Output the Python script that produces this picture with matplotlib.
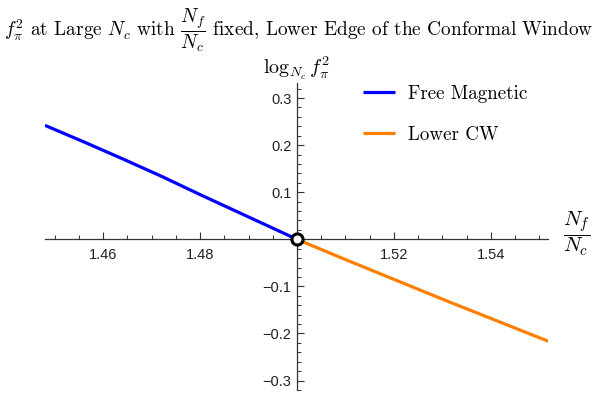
import numpy as np
import matplotlib.pyplot as plt
from matplotlib.ticker import MultipleLocator, FixedLocator, FixedFormatter

plt.rcParams['mathtext.fontset'] = 'cm'

# data
x_free = [1.448, 1.456, 1.464, 1.472, 1.480, 1.488, 1.496, 1.500]
y_free = [0.242, 0.207, 0.171, 0.134, 0.095, 0.057, 0.019, 0.0]
x_cw = [1.500, 1.510, 1.520, 1.530, 1.540, 1.552]
y_cw = [0.0, -0.043, -0.085, -0.127, -0.168, -0.217]

xticks = [1.46, 1.48, 1.52, 1.54]
xlabels = ['1.46', '1.48', '1.52', '1.54']
yticks = [-0.3, -0.2, -0.1, 0.1, 0.2, 0.3]
ylabels = ['\u22120.3', '\u22120.2', '\u22120.1', '0.1', '0.2', '0.3']

fig = plt.figure(figsize=(5.98, 3.98), dpi=100)
W, H = 598, 398
ax = fig.add_axes([45 / W, 1 - 390 / H, (548 - 45) / W, (390 - 83) / H])
ax.set_xlim(1.448, 1.5518)
ax.set_ylim(-0.32, 0.332)

ax.plot(x_free, y_free, color='#0000ff', lw=2.3, label='Free Magnetic', solid_capstyle='butt')
ax.plot(x_cw, y_cw, color='#ff8000', lw=2.3, label='Lower CW', solid_capstyle='butt')
ax.plot([1.5], [0.0], marker='o', ms=8, mfc='white', mec='black', mew=2.2, zorder=5, clip_on=False)

axcol = '#333333'
for s in ['top', 'right']:
    ax.spines[s].set_visible(False)
ax.spines['left'].set_position(('data', 1.5))
ax.spines['bottom'].set_position(('data', 0.0))
for s in ['left', 'bottom']:
    ax.spines[s].set_color(axcol)
    ax.spines[s].set_linewidth(0.9)

ax.xaxis.set_major_locator(FixedLocator(xticks))
ax.xaxis.set_major_formatter(FixedFormatter(xlabels))
ax.xaxis.set_minor_locator(MultipleLocator(0.005))
ax.yaxis.set_major_locator(FixedLocator(yticks))
ax.yaxis.set_major_formatter(FixedFormatter(ylabels))
ax.yaxis.set_minor_locator(MultipleLocator(0.02))

ax.tick_params(axis='x', which='major', direction='in', length=5, width=0.8, color=axcol, pad=6)
ax.tick_params(axis='x', which='minor', direction='in', length=3, width=0.7, color=axcol)
ax.tick_params(axis='y', which='major', direction='in', length=5, width=0.8, color=axcol, pad=4)
ax.tick_params(axis='y', which='minor', direction='in', length=3, width=0.7, color=axcol)
for lab in ax.get_xticklabels() + ax.get_yticklabels():
    lab.set_fontfamily('Liberation Sans')
    lab.set_fontsize(10.5)
    lab.set_color('#222222')

fig.text(0.5, 1 - 30 / H,
         r'$f_\pi^2$ at Large $N_c$ with $\dfrac{N_f}{N_c}$ fixed, Lower Edge of the Conformal Window',
         ha='center', va='center', fontsize=13.9, family='cmr10')
fig.text(297 / W, 1 - 68 / H, r'$\log_{N_c} f_\pi^2$', ha='center', va='center', fontsize=14.5)
fig.text(577 / W, 1 - 234 / H, r'$\dfrac{N_f}{N_c}$', ha='center', va='center', fontsize=15)

leg = fig.legend(loc='upper left', bbox_to_anchor=(346 / W, 1 - 68 / H), frameon=False,
                 handlelength=1.65, labelspacing=1.2, handletextpad=0.7,
                 prop={'family': 'cmr10', 'size': 13.7})

fig.savefig('out.png', dpi=100)
